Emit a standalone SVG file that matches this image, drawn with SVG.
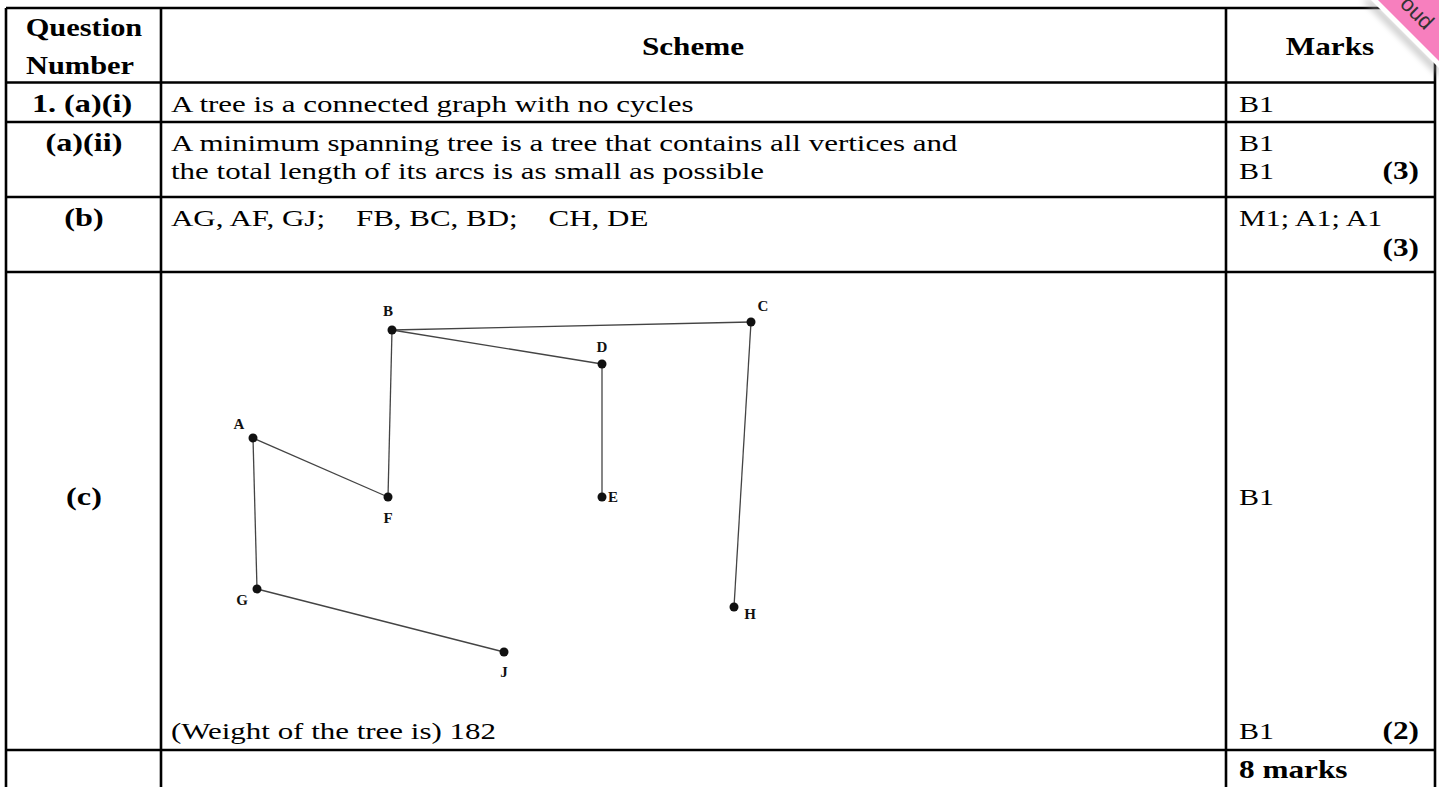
<svg xmlns="http://www.w3.org/2000/svg" width="1439" height="787" viewBox="0 0 1439 787">
<defs>
<style>
.grid{stroke:#000;stroke-width:2.6;fill:none}
.t{font-family:"Liberation Serif","Times New Roman",serif;font-size:24px;fill:#000}
.b{font-family:"Liberation Serif","Times New Roman",serif;font-size:26px;font-weight:bold;fill:#000}
.bb{font-family:"Liberation Serif","Times New Roman",serif;font-size:25px;font-weight:bold;fill:#000}
.edge{stroke:#444;stroke-width:1.3;fill:none}
.dot{fill:#111}
.lbl{font-family:"Liberation Serif","Times New Roman",serif;font-size:15px;font-weight:bold;fill:#111}
</style>
<filter id="sh" x="-50%" y="-50%" width="200%" height="200%"><feGaussianBlur stdDeviation="3"/></filter>
</defs>
<rect width="1439" height="787" fill="#fff"/>
<g id="table">
<path class="grid" d="M6 8H1435M6 82.5H1435M6 122H1435M6 197H1435M6 272H1435M6 750H1435M6 8V787M161 8V787M1226 8V787M1435 8V787"/>
</g>
<g id="header">
<text class="b" text-anchor="middle" transform="translate(84 36) scale(1.17 1)">Question</text>
<text class="b" text-anchor="middle" transform="translate(80 74) scale(1.17 1)">Number</text>
<text class="b" text-anchor="middle" transform="translate(693 55) scale(1.2 1)">Scheme</text>
<text class="b" text-anchor="middle" transform="translate(1330 55) scale(1.2 1)">Marks</text>
</g>
<g id="row-a-i">
<text class="bb" text-anchor="middle" transform="translate(82 112) scale(1.29 1)">1. (a)(i)</text>
<text class="t" transform="translate(171 112) scale(1.29 1)">A tree is a connected graph with no cycles</text>
<text class="t" transform="translate(1239 112) scale(1.25 1)">B1</text>
</g>
<g id="row-a-ii">
<text class="bb" text-anchor="middle" transform="translate(84 151) scale(1.29 1)">(a)(ii)</text>
<text class="t" transform="translate(171 151) scale(1.29 1)">A minimum spanning tree is a tree that contains all vertices and</text>
<text class="t" transform="translate(171 178.5) scale(1.29 1)">the total length of its arcs is as small as possible</text>
<text class="t" transform="translate(1239 151) scale(1.25 1)">B1</text>
<text class="t" transform="translate(1239 178.5) scale(1.25 1)">B1</text>
<text class="bb" text-anchor="end" transform="translate(1419 178.5) scale(1.25 1)">(3)</text>
</g>
<g id="row-b">
<text class="bb" text-anchor="middle" transform="translate(84 226) scale(1.29 1)">(b)</text>
<text class="t" transform="translate(171 226) scale(1.29 1)" xml:space="preserve">AG, AF, GJ;    FB, BC, BD;    CH, DE</text>
<text class="t" transform="translate(1239 226) scale(1.25 1)">M1; A1; A1</text>
<text class="bb" text-anchor="end" transform="translate(1419 256) scale(1.25 1)">(3)</text>
</g>
<g id="row-c">
<text class="bb" text-anchor="middle" transform="translate(84 505) scale(1.29 1)">(c)</text>
<text class="t" transform="translate(1239 505) scale(1.25 1)">B1</text>
<text class="t" transform="translate(171 739) scale(1.29 1)">(Weight of the tree is) 182</text>
<text class="t" transform="translate(1239 739) scale(1.25 1)">B1</text>
<text class="bb" text-anchor="end" transform="translate(1419 739) scale(1.25 1)">(2)</text>
</g>
<g id="row-total">
<text class="bb" transform="translate(1239 778) scale(1.25 1)">8 marks</text>
</g>
<g id="connectors">
<line class="edge" x1="392" y1="330" x2="751" y2="322"/>
<line class="edge" x1="392" y1="330" x2="602" y2="364"/>
<line class="edge" x1="392" y1="330" x2="388" y2="497"/>
<line class="edge" x1="253" y1="438" x2="388" y2="497"/>
<line class="edge" x1="253" y1="438" x2="257" y2="589"/>
<line class="edge" x1="257" y1="589" x2="504" y2="652"/>
<line class="edge" x1="602" y1="364" x2="602" y2="497"/>
<line class="edge" x1="751" y1="322" x2="734" y2="607"/>
</g>
<g id="node-A"><circle class="dot" cx="253" cy="438" r="4.5"/><text class="lbl" x="239" y="429" text-anchor="middle">A</text></g>
<g id="node-B"><circle class="dot" cx="392" cy="330" r="4.5"/><text class="lbl" x="388" y="316" text-anchor="middle">B</text></g>
<g id="node-C"><circle class="dot" cx="751" cy="322" r="4.5"/><text class="lbl" x="763" y="311" text-anchor="middle">C</text></g>
<g id="node-D"><circle class="dot" cx="602" cy="364" r="4.5"/><text class="lbl" x="602" y="352" text-anchor="middle">D</text></g>
<g id="node-E"><circle class="dot" cx="602" cy="497" r="4.5"/><text class="lbl" x="613" y="502" text-anchor="middle">E</text></g>
<g id="node-F"><circle class="dot" cx="388" cy="497" r="4.5"/><text class="lbl" x="388" y="523" text-anchor="middle">F</text></g>
<g id="node-G"><circle class="dot" cx="257" cy="589" r="4.5"/><text class="lbl" x="242" y="605" text-anchor="middle">G</text></g>
<g id="node-H"><circle class="dot" cx="734" cy="607" r="4.5"/><text class="lbl" x="750" y="619" text-anchor="middle">H</text></g>
<g id="node-J"><circle class="dot" cx="504" cy="652" r="4.5"/><text class="lbl" x="504" y="677" text-anchor="middle">J</text></g>
<g id="ribbon">
<polygon points="1362,0 1372,0 1439,67 1439,77" fill="#999" opacity="0.5" filter="url(#sh)"/>
<polygon points="1371,0 1439,0 1439,68" fill="#fff"/>
<polygon points="1378,0 1439,0 1439,61" fill="#f77fbe"/>
<text transform="translate(1399 5) rotate(45)" font-family="Liberation Sans, Arial, sans-serif" font-size="22" fill="#333">oud</text>
</g>
</svg>
